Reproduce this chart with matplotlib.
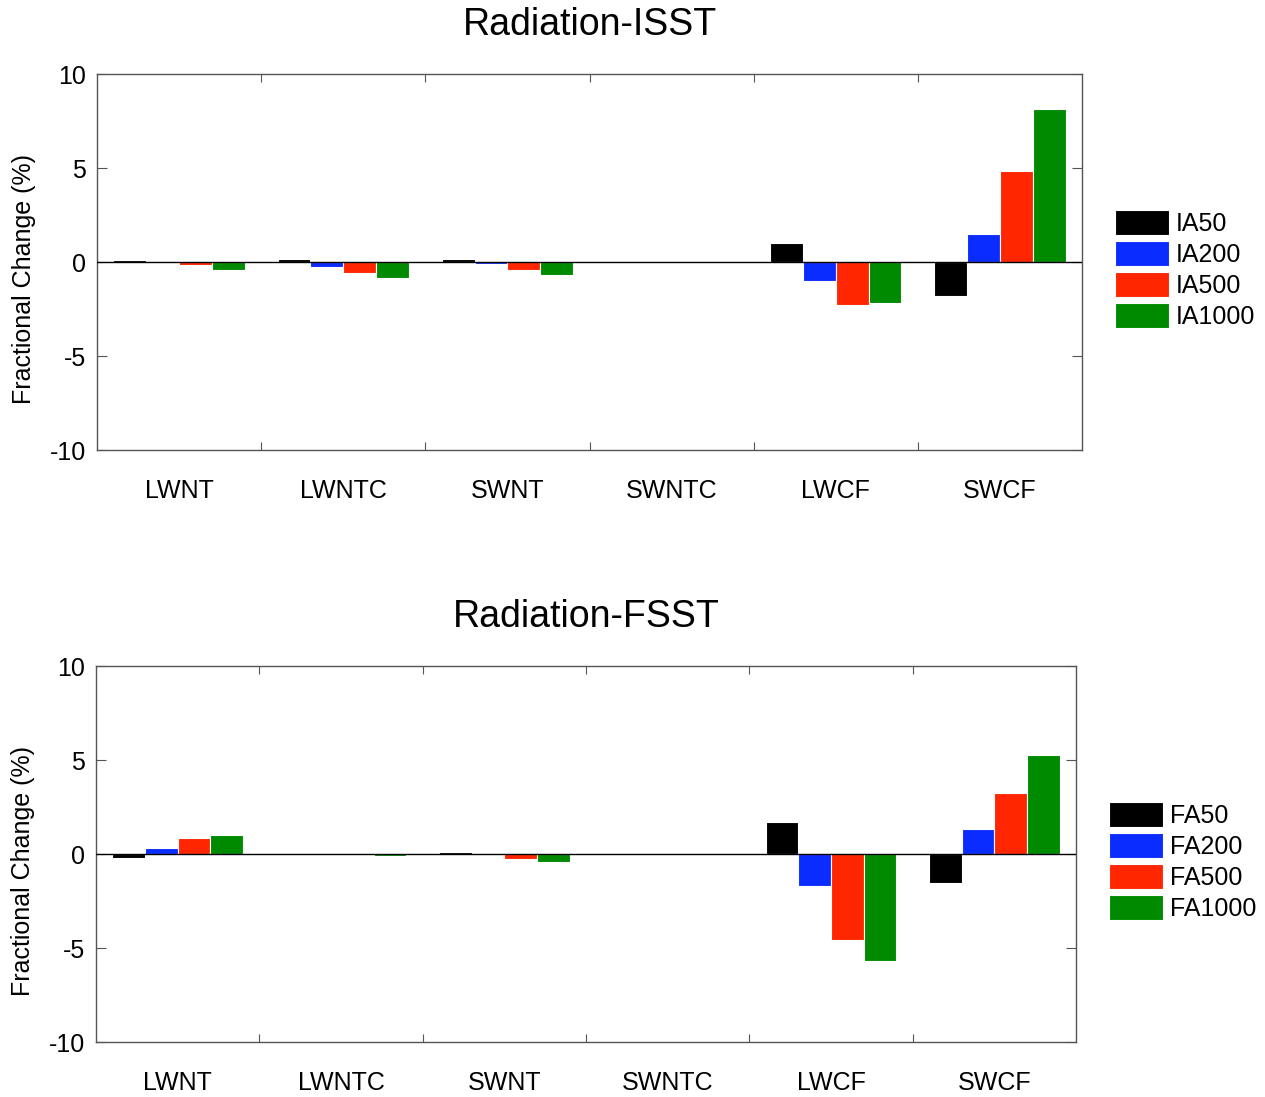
import numpy as np
import matplotlib
matplotlib.use("Agg")
import matplotlib.pyplot as plt
from matplotlib.ticker import FixedLocator, NullFormatter

plt.rcParams['font.family'] = ['Liberation Sans', 'DejaVu Sans']
plt.rcParams['axes.unicode_minus'] = False

categories = ["LWNT", "LWNTC", "SWNT", "SWNTC", "LWCF", "SWCF"]

# fractional change (%)
isst_names = ["IA50", "IA200", "IA500", "IA1000"]
ia50 = [0.08, 0.14, 0.14, 0.0, 1.0, -1.8]
ia200 = [0.0, -0.27, -0.1, 0.0, -1.0, 1.5]
ia500 = [-0.15, -0.6, -0.4, 0.0, -2.3, 4.85]
ia1000 = [-0.45, -0.83, -0.68, 0.0, -2.2, 8.15]

fsst_names = ["FA50", "FA200", "FA500", "FA1000"]
fa50 = [-0.2, 0.0, 0.1, 0.0, 1.7, -1.55]
fa200 = [0.3, 0.0, -0.05, 0.0, -1.7, 1.33]
fa500 = [0.85, 0.0, -0.25, 0.0, -4.6, 3.25]
fa1000 = [1.0, -0.08, -0.43, 0.0, -5.7, 5.27]

colors = ["#000000", "#0a2cff", "#ff2600", "#008a00"]

fig = plt.figure(figsize=(12.65, 10.97), dpi=100)
ax1 = fig.add_axes([97/1265, 1-450/1097, 985/1265, 376/1097])
ax2 = fig.add_axes([96/1265, 1-1042/1097, 980/1265, 376/1097])


def draw(ax, title, names, series, lx):
    x = np.arange(len(categories))
    w = 0.2
    for k, (nm, vals) in enumerate(zip(names, series)):
        ax.bar(x + (k - 1.5) * w, vals, w, color=colors[k], edgecolor="white",
               linewidth=0.8, label=nm, zorder=2)
    ax.axhline(0, color="black", lw=1.0, zorder=3)
    ax.set_xlim(-0.5, len(categories) - 0.5)
    ax.set_ylim(-10, 10)
    ax.set_yticks([-10, -5, 0, 5, 10])
    ax.xaxis.set_major_locator(FixedLocator(x[:-1] + 0.5))
    ax.xaxis.set_major_formatter(NullFormatter())
    ax.xaxis.set_minor_locator(FixedLocator(x))
    ax.set_xticklabels(categories, minor=True)
    ax.tick_params(axis="x", which="major", direction="in", length=6,
                   top=True, bottom=True, color="#555555")
    ax.tick_params(axis="x", which="minor", length=0, pad=21, labelsize=18)
    ax.tick_params(axis="y", direction="in", length=7, left=True, right=True,
                   labelsize=18, pad=8, color="#555555")
    for s in ax.spines.values():
        s.set_color("#555555")
        s.set_linewidth(1.0)
    ax.set_ylabel("Fractional Change (%)", fontsize=18)
    ax.yaxis.set_label_coords(-0.062, 0.455)
    ax.set_title(title, fontsize=27, pad=28)
    ax.legend(loc="upper left", bbox_to_anchor=(lx, 0.638), frameon=False,
              fontsize=18, handlelength=2.15, handleheight=1.15,
              handletextpad=0.3, labelspacing=0.2, borderpad=0,
              borderaxespad=0)


draw(ax1, "Radiation-ISST", isst_names, [ia50, ia200, ia500, ia1000], 1.0335)
draw(ax2, "Radiation-FSST", fsst_names, [fa50, fa200, fa500, fa1000], 1.0337)

fig.savefig("out.png", dpi=100)
